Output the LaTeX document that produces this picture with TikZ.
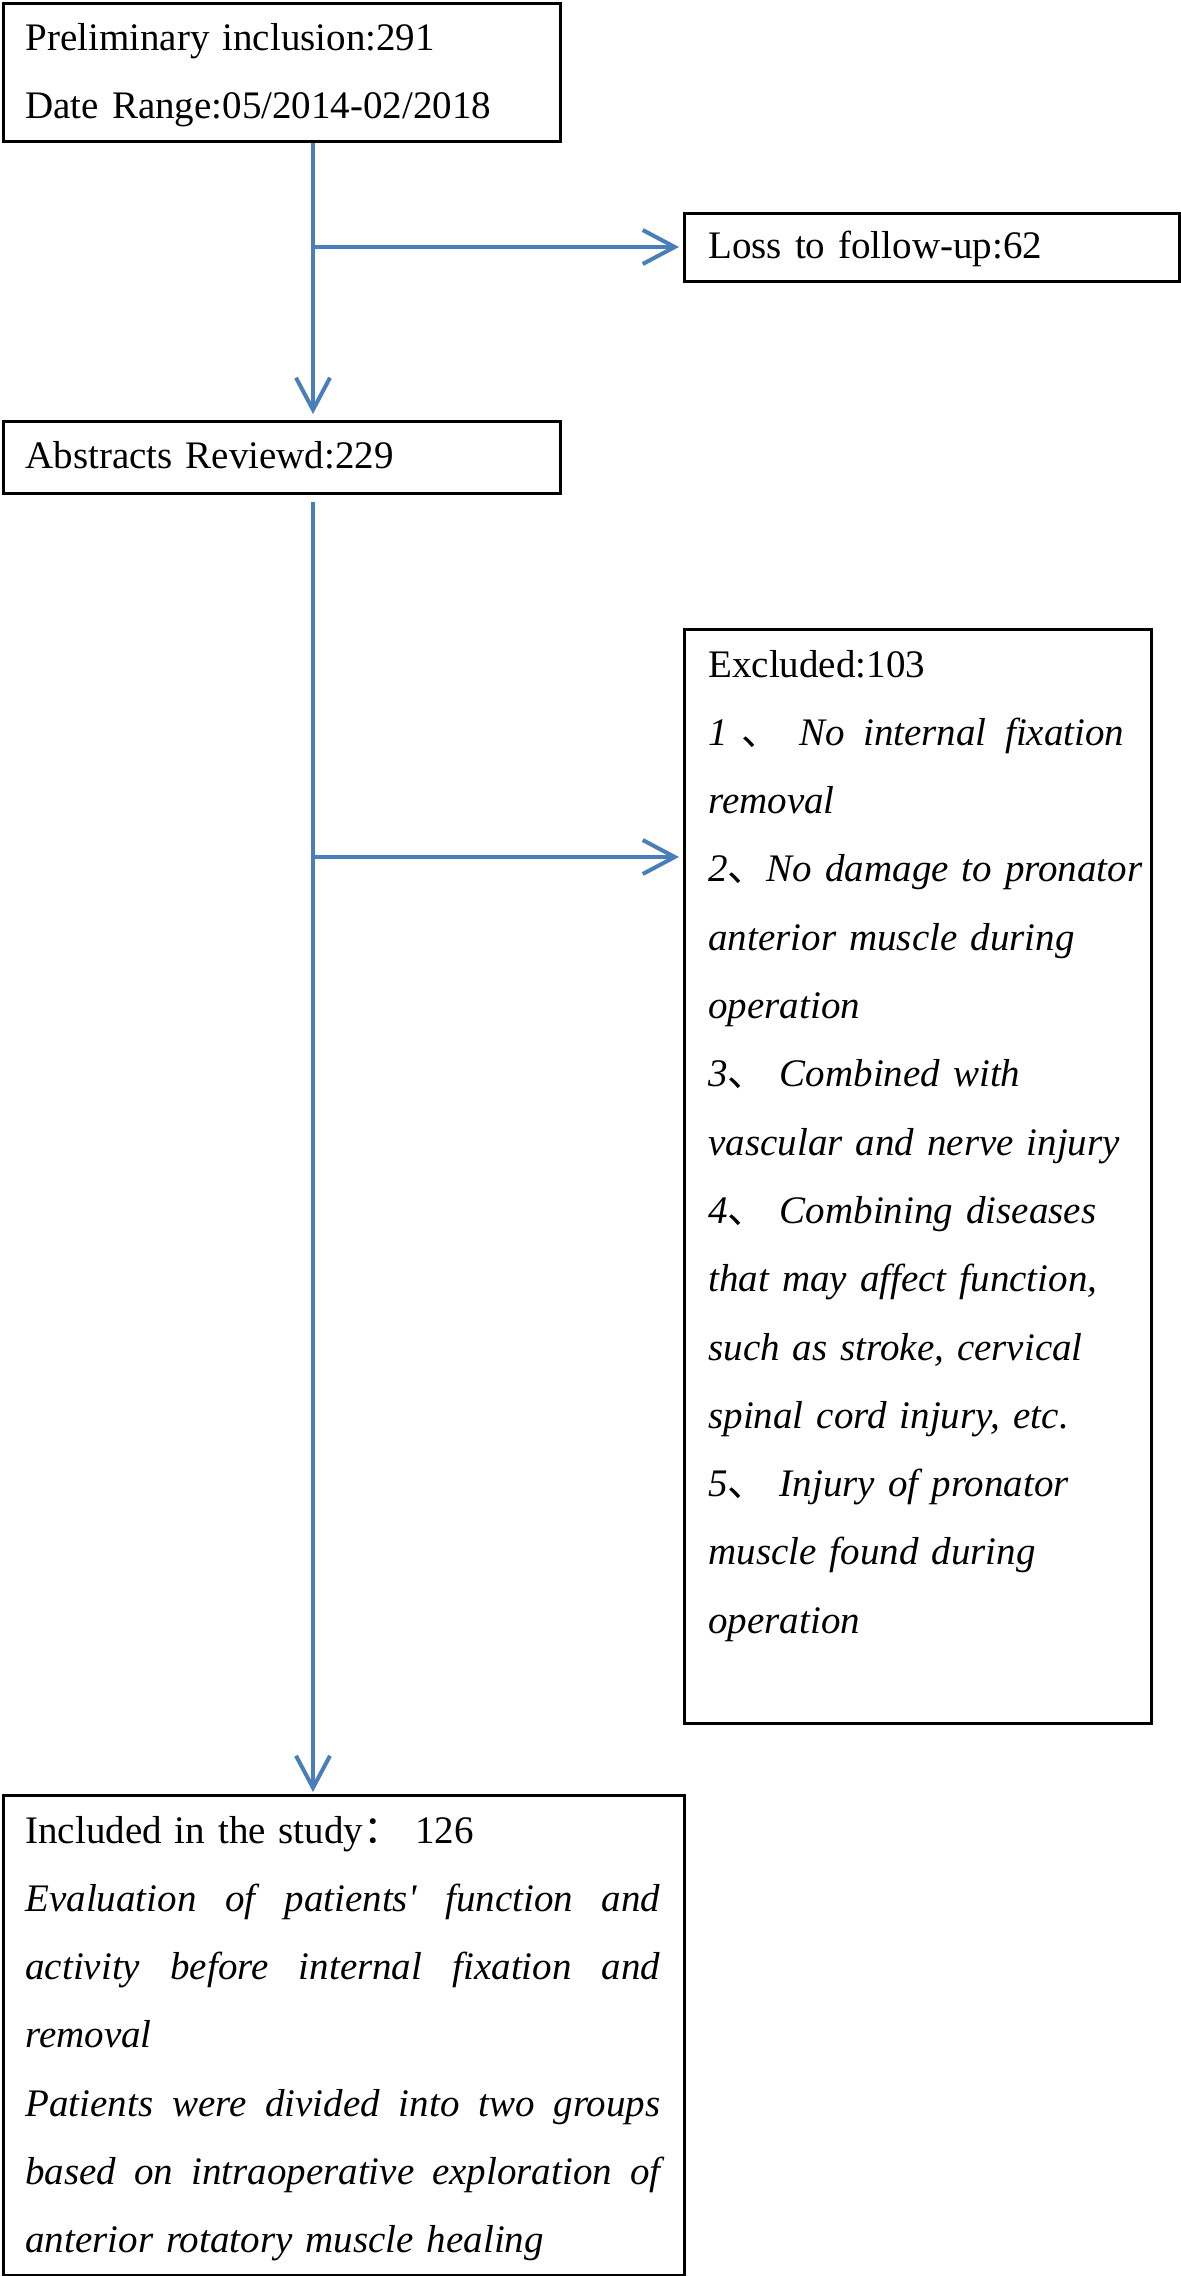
\documentclass[tikz,border=0pt]{standalone}
\usepackage{fontspec}
\setmainfont{Liberation Serif}
\newfontfamily\cjkf{Noto Sans CJK SC}
\usetikzlibrary{arrows.meta}
\definecolor{flowblue}{RGB}{74,126,187}
\newcommand{\myDun}{{\cjkf 、}}
\newcommand{\myColon}{{\cjkf ：}}
\newcommand{\tsz}{\fontsize{19.5}{34.15}\selectfont}
\newcommand{\jline}[2]{\leavevmode\hbox to #1{#2}}
\begin{document}
\begin{tikzpicture}[x=0.5pt,y=-0.5pt,
  box/.style={draw=black, line width=1.5pt, anchor=north west, inner sep=0pt},
  txt/.style={anchor=base west, inner sep=0pt, align=left, font=\tsz},
  link/.style={draw=flowblue, line width=2pt, -{Straight Barb[length=16pt,width=17pt]}}]
\useasboundingbox (0,0) rectangle (1181,2276);
\fill[white] (0,0) rectangle (1181,2276);

% boxes
\node[box, minimum width=278.5pt, minimum height=69pt] (b1) at (2,2) {};
\node[box, minimum width=247.5pt, minimum height=34pt] (b2) at (683,212) {};
\node[box, minimum width=278.5pt, minimum height=36pt] (b3) at (2,420) {};
\node[box, minimum width=233.5pt, minimum height=547pt] (b4) at (683,628) {};
\node[box, minimum width=340.5pt, minimum height=240pt] (b5) at (2,1794) {};

% texts
\node[txt, text width=270pt] (t1) at (25,50) {\tsz Preliminary inclusion:291\\Date Range:05/2014-02/2018};
\node[txt, text width=240pt] (t2) at (708,258) {\tsz Loss to follow-up:62};
\node[txt, text width=270pt] (t3) at (25,468) {\tsz Abstracts Reviewd:229};
\node[txt, text width=240pt] (t4) at (708,677) {\tsz Excluded:103\\
\itshape\jline{208pt}{1\hspace{0.35em}\myDun\hfill No\hfill internal\hfill fixation}\\
removal\\
2\myDun No damage to pronator\\
anterior muscle during\\
operation\\
3\myDun\ Combined with\\
vascular and nerve injury\\
4\myDun\ Combining diseases\\
that may affect function,\\
such as stroke, cervical\\
spinal cord injury, etc.\\
5\myDun\ Injury of pronator\\
muscle found during\\
operation};
\node[txt, text width=330pt] (t5) at (25,1843) {\tsz Included in the study\myColon\ 126\\
\itshape\jline{317.5pt}{Evaluation\hfill of\hfill patients\textquotesingle\hfill function\hfill and}\\
\jline{317.5pt}{activity\hfill before\hfill internal\hfill fixation\hfill and}\\
removal\\
\jline{317.5pt}{Patients\hfill were\hfill divided\hfill into\hfill two\hfill groups}\\
\jline{317.5pt}{based\hfill on\hfill intraoperative\hfill exploration\hfill of}\\
anterior rotatory muscle healing};

% connectors
\coordinate (j1) at (313,247);
\coordinate (j2) at (313,857);
\draw[link, shorten >=3pt] (b1.south -| j1) -- (b3.north -| j1);
\draw[link, shorten >=2pt] (j1) -- (j1 -| b2.west);
\draw[link, shorten >=1pt] ([yshift=-3.5pt]b3.south -| j2) -- (b5.north -| j2);
\draw[link, shorten >=2pt] (j2) -- (j2 -| b4.west);
\end{tikzpicture}
\end{document}
